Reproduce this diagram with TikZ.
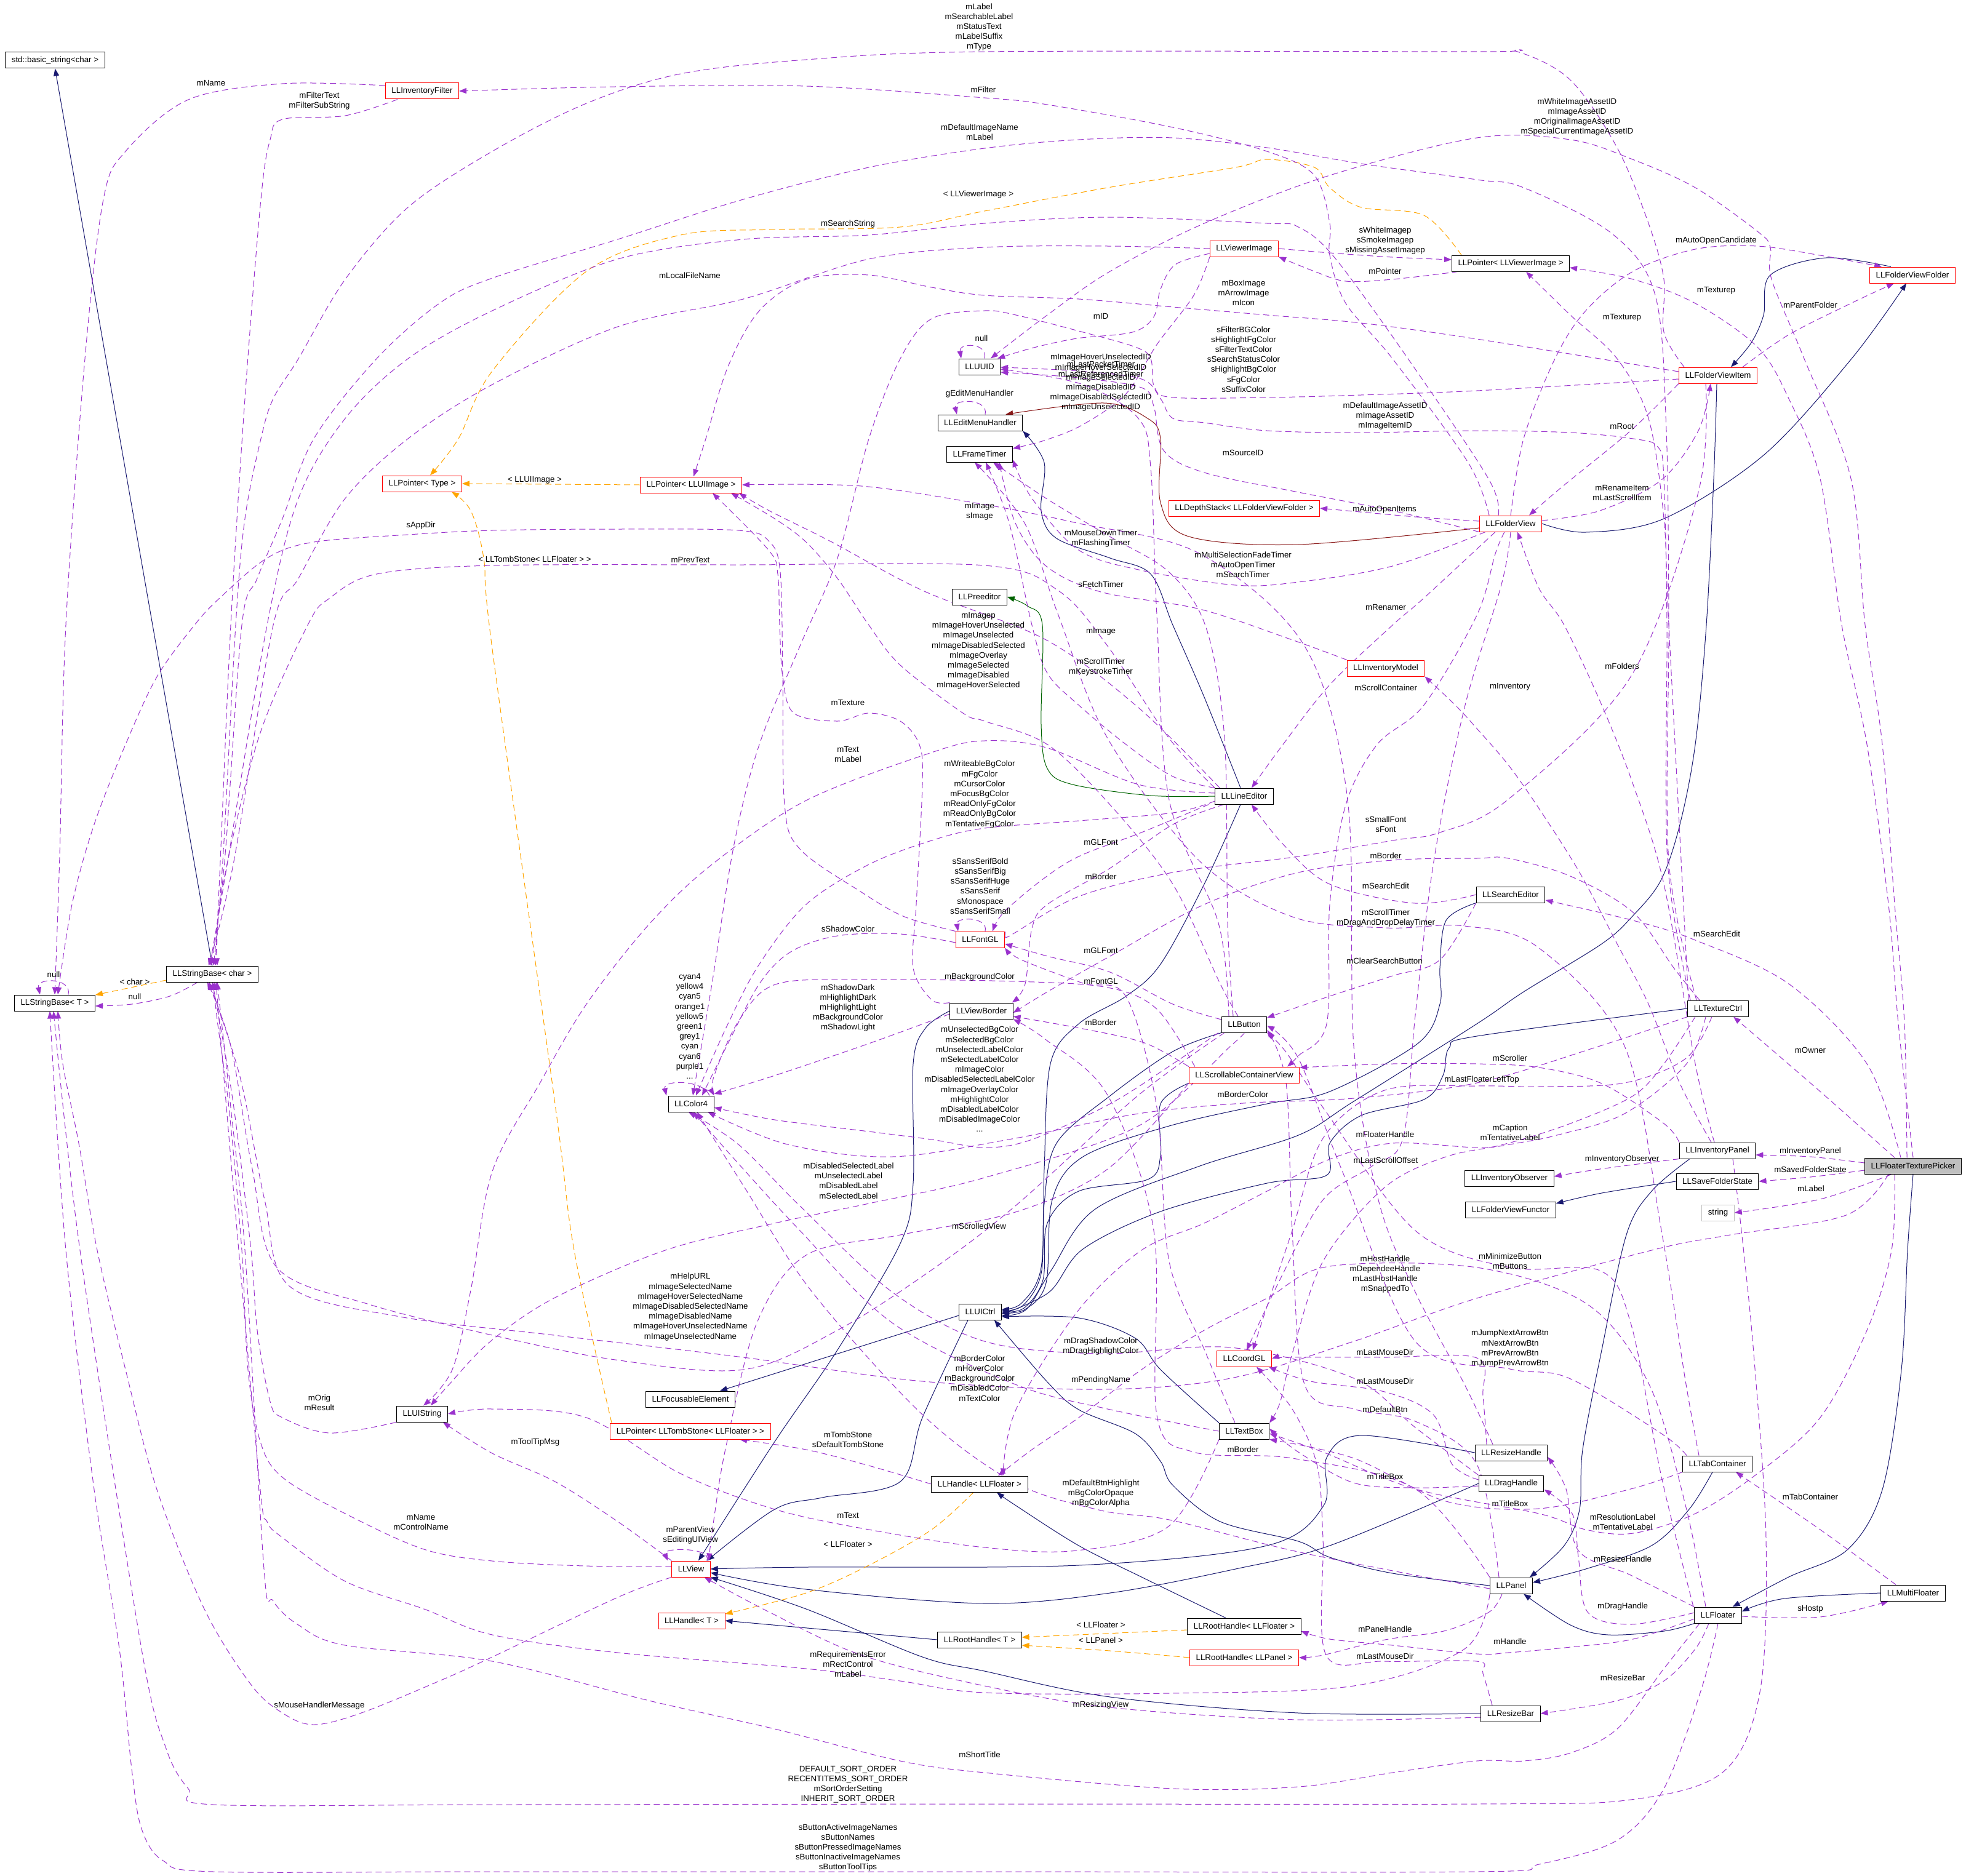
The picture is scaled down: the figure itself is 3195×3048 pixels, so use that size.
\documentclass[tikz,border=0pt]{standalone}
\usepackage{fontspec}
\setmainfont{Liberation Sans}
\usetikzlibrary{arrows.meta,backgrounds}
\definecolor{edgep}{HTML}{9A32CD}
\definecolor{navyc}{HTML}{191970}
\definecolor{orng}{HTML}{FFA500}
\definecolor{dgreen}{HTML}{006400}
\definecolor{dred}{HTML}{8B1A1A}
\definecolor{gbox}{HTML}{BFBFBF}
\begin{document}
\begin{tikzpicture}[x=1pt,y=-1pt,
 every node/.style={font=\fontsize{13.3}{16.2}\selectfont},
 nbox/.style={draw=black,line width=1pt,inner xsep=10pt,inner ysep=0pt,minimum height=26pt,fill=white},
 rbox/.style={nbox,draw=red},
 lbl/.style={align=center,inner sep=0pt},
 arrowtip/.style={-{Triangle[length=12pt,width=9pt]}},
 usee/.style={draw=edgep,line width=1pt,dash pattern=on 10pt off 6pt,arrowtip},
 inh/.style={draw=navyc,line width=1pt,arrowtip},
 dgreenline/.style={draw=dgreen,line width=1pt,arrowtip},
 dredline/.style={draw=dred,line width=1pt,arrowtip},
 tmpl/.style={draw=orng,line width=1pt,dash pattern=on 10pt off 6pt,arrowtip},
 sm/.style={smooth,tension=0.55}]
\useasboundingbox (0,0) rectangle (3195,3048);
% ---------------- nodes
\node[nbox] (bstr) at (89.5,98) {std::basic\_string<char >};
\node[rbox] (invfilt) at (686,148) {LLInventoryFilter};
\node[rbox] (ptrtype) at (686,786) {LLPointer< Type >};
\node[nbox] (sbchar) at (345,1583) {LLStringBase< char >};
\node[nbox] (sbT) at (89,1630) {LLStringBase< T >};
\node[rbox] (ptruiimg) at (1123,788) {LLPointer< LLUIImage >};
\node[nbox] (uuid) at (1592,596) {LLUUID};
\node[nbox] (editmenu) at (1593,687) {LLEditMenuHandler};
\node[nbox] (frametimer) at (1592,738) {LLFrameTimer};
\node[nbox] (preedit) at (1592,970) {LLPreeditor};
\node[rbox] (viewerimg) at (2022,404) {LLViewerImage};
\node[nbox] (ptrviewer) at (2455,428) {LLPointer< LLViewerImage >};
\node[rbox] (fvfolder) at (3108,447) {LLFolderViewFolder};
\node[rbox] (fvitem) at (2792,610) {LLFolderViewItem};
\node[rbox] (depth) at (2022,826) {LLDepthStack< LLFolderViewFolder >};
\node[rbox] (fview) at (2455,851) {LLFolderView};
\node[rbox] (invmodel) at (2252,1086) {LLInventoryModel};
\node[nbox] (lineed) at (2022,1294) {LLLineEditor};
\node[nbox] (searched) at (2455,1454) {LLSearchEditor};
\node[rbox] (fontgl) at (1593,1527) {LLFontGL};
\node[nbox] (vborder) at (1595,1643) {LLViewBorder};
\node[nbox] (button) at (2022,1665) {LLButton};
\node[rbox] (scroll) at (2022,1747) {LLScrollableContainerView};
\node[nbox] (color) at (1123,1794) {LLColor4};
\node[nbox] (texctrl) at (2792,1639) {LLTextureCtrl};
\node[nbox] (invpanel) at (2791,1870) {LLInventoryPanel};
\node[nbox,fill=gbox] (picker) at (3109,1895) {LLFloaterTexturePicker};
\node[nbox] (invobs) at (2453,1915) {LLInventoryObserver};
\node[nbox] (savefs) at (2791,1920) {LLSaveFolderState};
\node[nbox] (fvfunctor) at (2455,1966) {LLFolderViewFunctor};
\node[nbox,draw=gbox] (strn) at (2792,1971) {string};
\node[nbox] (uictrl) at (1593,2132) {LLUICtrl};
\node[nbox] (focus) at (1122,2274) {LLFocusableElement};
\node[rbox] (ptrtomb) at (1122,2326) {LLPointer< LLTombStone< LLFloater > >};
\node[nbox] (uistring) at (686,2298) {LLUIString};
\node[rbox] (coordgl) at (2022,2208) {LLCoordGL};
\node[nbox] (textbox) at (2022,2326) {LLTextBox};
\node[nbox] (hfloater) at (1592,2412) {LLHandle< LLFloater >};
\node[rbox] (view) at (1123,2550) {LLView};
\node[rbox] (handleT) at (1124,2634) {LLHandle< T >};
\node[nbox] (roothT) at (1592,2665) {LLRootHandle< T >};
\node[nbox] (roothF) at (2022,2643) {LLRootHandle< LLFloater >};
\node[rbox] (roothP) at (2022,2694) {LLRootHandle< LLPanel >};
\node[nbox] (rhandle) at (2456,2361) {LLResizeHandle};
\node[nbox] (dhandle) at (2456,2411) {LLDragHandle};
\node[nbox] (tabc) at (2791,2379) {LLTabContainer};
\node[nbox] (panel) at (2456,2577) {LLPanel};
\node[nbox] (floater) at (2792,2625) {LLFloater};
\node[nbox] (multi) at (3109,2589) {LLMultiFloater};
\node[nbox] (rbar) at (2455,2785) {LLResizeBar};
% ---------------- labels
\node[lbl] (la1) at (219,1620) {null};
\node[lbl] (la2) at (219,1596) {< char >};
\node[lbl] (la3) at (87,1584) {null};
\node[lbl] (la4) at (343,135) {mName};
\node[lbl] (la5) at (519,164) {mFilterText\\mFilterSubString};
\node[lbl] (la6) at (1598,146) {mFilter};
\node[lbl] (la7) at (1591,44) {mLabel\\mSearchableLabel\\mStatusText\\mLabelSuffix\\mType};
\node[lbl] (la8) at (1592,215) {mDefaultImageName\\mLabel};
\node[lbl] (la9) at (1590,316) {< LLViewerImage >};
\node[lbl] (la10) at (1378,364) {mSearchString};
\node[lbl] (la11) at (1121,448) {mLocalFileName};
\node[lbl] (la12) at (1595,550) {null};
\node[lbl] (la13) at (1592,640) {gEditMenuHandler};
\node[lbl] (la14) at (869,780) {< LLUIImage >};
\node[lbl] (la15) at (1592,831) {mImage\\sImage};
\node[lbl] (la16) at (684,854) {sAppDir};
\node[lbl] (la17) at (869,909) {< LLTombStone< LLFloater > >};
\node[lbl] (la18) at (1122,910) {mPrevText};
\node[lbl] (la19) at (1590,1058) {mImagep\\mImageHoverUnselected\\mImageUnselected\\mImageDisabledSelected\\mImageOverlay\\mImageSelected\\mImageDisabled\\mImageHoverSelected};
\node[lbl] (la20) at (2021,476) {mBoxImage\\mArrowImage\\mIcon};
\node[lbl] (la21) at (1789,514) {mID};
\node[lbl] (la22) at (2021,584) {sFilterBGColor\\sHighlightFgColor\\sFilterTextColor\\sSearchStatusColor\\sHighlightBgColor\\sFgColor\\sSuffixColor};
\node[lbl] (la23) at (1789,622) {mImageHoverUnselectedID\\mImageHoverSelectedID\\mImageSelectedID\\mImageDisabledID\\mImageDisabledSelectedID\\mImageUnselectedID};
\node[lbl] (la24) at (1789,600) {mLastPacketTimer\\mLastReferencedTimer};
\node[lbl] (la25) at (2251,391) {sWhiteImagep\\sSmokeImagep\\sMissingAssetImagep};
\node[lbl] (la26) at (2251,441) {mPointer};
\node[lbl] (la27) at (2251,676) {mDefaultImageAssetID\\mImageAssetID\\mImageItemID};
\node[lbl] (la28) at (2020,736) {mSourceID};
\node[lbl] (la29) at (2250,828) {mAutoOpenItems};
\node[lbl] (la30) at (1789,875) {mMouseDownTimer\\mFlashingTimer};
\node[lbl] (la31) at (2020,918) {mMultiSelectionFadeTimer\\mAutoOpenTimer\\mSearchTimer};
\node[lbl] (la32) at (1789,950) {sFetchTimer};
\node[lbl] (la33) at (2252,987) {mRenamer};
\node[lbl] (la34) at (2563,190) {mWhiteImageAssetID\\mImageAssetID\\mOriginalImageAssetID\\mSpecialCurrentImageAssetID};
\node[lbl] (la35) at (2789,391) {mAutoOpenCandidate};
\node[lbl] (la36) at (2789,472) {mTexturep};
\node[lbl] (la37) at (2942,496) {mParentFolder};
\node[lbl] (la38) at (2636,516) {mTexturep};
\node[lbl] (la39) at (2636,693) {mRoot};
\node[lbl] (la40) at (2636,801) {mRenameItem\\mLastScrollItem};
\node[lbl] (la41) at (1378,1142) {mTexture};
\node[lbl] (la42) at (1378,1226) {mText\\mLabel};
\node[lbl] (la43) at (1592,1291) {mWriteableBgColor\\mFgColor\\mCursorColor\\mFocusBgColor\\mReadOnlyFgColor\\mReadOnlyBgColor\\mTentativeFgColor};
\node[lbl] (la44) at (1593,1440) {sSansSerifBold\\sSansSerifBig\\sSansSerifHuge\\sSansSerif\\sMonospace\\sSansSerifSmall};
\node[lbl] (la45) at (1378,1510) {sShadowColor};
\node[lbl] (la46) at (1592,1588) {mBackgroundColor};
\node[lbl] (la47) at (1378,1638) {mShadowDark\\mHighlightDark\\mHighlightLight\\mBackgroundColor\\mShadowLight};
\node[lbl] (la48) at (1121,1668) {cyan4\\yellow4\\cyan5\\orange1\\yellow5\\green1\\grey1\\cyan\\cyan6\\purple1\\...};
\node[lbl] (la49) at (1592,1754) {mUnselectedBgColor\\mSelectedBgColor\\mUnselectedLabelColor\\mSelectedLabelColor\\mImageColor\\mDisabledSelectedLabelColor\\mImageOverlayColor\\mHighlightColor\\mDisabledLabelColor\\mDisabledImageColor\\...};
\node[lbl] (la50) at (1379,1919) {mDisabledSelectedLabel\\mUnselectedLabel\\mDisabledLabel\\mSelectedLabel};
\node[lbl] (la51) at (1591,1993) {mScrolledView};
\node[lbl] (la52) at (1789,1026) {mImage};
\node[lbl] (la53) at (1789,1084) {mScrollTimer\\mKeystrokeTimer};
\node[lbl] (la54) at (2252,1118) {mScrollContainer};
\node[lbl] (la55) at (2252,1340) {sSmallFont\\sFont};
\node[lbl] (la56) at (1789,1369) {mGLFont};
\node[lbl] (la57) at (2252,1391) {mBorder};
\node[lbl] (la58) at (1789,1425) {mBorder};
\node[lbl] (la59) at (2252,1440) {mSearchEdit};
\node[lbl] (la60) at (2252,1492) {mScrollTimer\\mDragAndDropDelayTimer};
\node[lbl] (la61) at (1789,1545) {mGLFont};
\node[lbl] (la62) at (2250,1562) {mClearSearchButton};
\node[lbl] (la63) at (1789,1595) {mFontGL};
\node[lbl] (la64) at (1789,1662) {mBorder};
\node[lbl] (la65) at (2020,1779) {mBorderColor};
\node[lbl] (la66) at (2251,1844) {mFloaterHandle};
\node[lbl] (la67) at (2252,1886) {mLastScrollOffset};
\node[lbl] (la68) at (2636,1083) {mFolders};
\node[lbl] (la69) at (2454,1116) {mInventory};
\node[lbl] (la70) at (2790,1518) {mSearchEdit};
\node[lbl] (la71) at (2942,1707) {mOwner};
\node[lbl] (la72) at (2454,1720) {mScroller};
\node[lbl] (la73) at (2408,1755) {mLastFloaterLeftTop};
\node[lbl] (la74) at (2454,1841) {mCaption\\mTentativeLabel};
\node[lbl] (la75) at (2636,1884) {mInventoryObserver};
\node[lbl] (la76) at (2942,1871) {mInventoryPanel};
\node[lbl] (la77) at (2942,1901) {mSavedFolderState};
\node[lbl] (la78) at (2943,1932) {mLabel};
\node[lbl] (la79) at (1122,2124) {mHelpURL\\mImageSelectedName\\mImageHoverSelectedName\\mImageDisabledSelectedName\\mImageDisabledName\\mImageHoverUnselectedName\\mImageUnselectedName};
\node[lbl] (la80) at (870,2344) {mToolTipMsg};
\node[lbl] (la81) at (1378,2340) {mTombStone\\sDefaultTombStone};
\node[lbl] (la82) at (1378,2463) {mText};
\node[lbl] (la83) at (1122,2495) {mParentView\\sEditingUIView};
\node[lbl] (la84) at (1378,2510) {< LLFloater >};
\node[lbl] (la85) at (1378,2705) {mRequirementsError\\mRectControl\\mLabel};
\node[lbl] (la86) at (1592,2852) {mShortTitle};
\node[lbl] (la87) at (1378,2900) {DEFAULT\_SORT\_ORDER\\RECENTITEMS\_SORT\_ORDER\\mSortOrderSetting\\INHERIT\_SORT\_ORDER};
\node[lbl] (la88) at (1378,3003) {sButtonActiveImageNames\\sButtonNames\\sButtonPressedImageNames\\sButtonInactiveImageNames\\sButtonToolTips};
\node[lbl] (la89) at (1592,2240) {mBorderColor\\mHoverColor\\mBackgroundColor\\mDisabledColor\\mTextColor};
\node[lbl] (la90) at (519,2280) {mOrig\\mResult};
\node[lbl] (la91) at (684,2474) {mName\\mControlName};
\node[lbl] (la92) at (519,2772) {sMouseHandlerMessage};
\node[lbl] (la93) at (2251,2071) {mHostHandle\\mDependeeHandle\\mLastHostHandle\\mSnappedTo};
\node[lbl] (la94) at (1789,2188) {mDragShadowColor\\mDragHighlightColor};
\node[lbl] (la95) at (2251,2198) {mLastMouseDir};
\node[lbl] (la96) at (1789,2243) {mPendingName};
\node[lbl] (la97) at (2251,2245) {mLastMouseDir};
\node[lbl] (la98) at (2251,2291) {mDefaultBtn};
\node[lbl] (la99) at (2020,2356) {mBorder};
\node[lbl] (la100) at (2251,2400) {mTitleBox};
\node[lbl] (la101) at (1789,2427) {mDefaultBtnHighlight\\mBgColorOpaque\\mBgColorAlpha};
\node[lbl] (la102) at (1789,2641) {< LLFloater >};
\node[lbl] (la103) at (2251,2648) {mPanelHandle};
\node[lbl] (la104) at (1789,2666) {< LLPanel >};
\node[lbl] (la105) at (2251,2692) {mLastMouseDir};
\node[lbl] (la106) at (1789,2771) {mResizingView};
\node[lbl] (la107) at (2454,2050) {mMinimizeButton\\mButtons};
\node[lbl] (la108) at (2454,2192) {mJumpNextArrowBtn\\mNextArrowBtn\\mPrevArrowBtn\\mJumpPrevArrowBtn};
\node[lbl] (la109) at (2454,2444) {mTitleBox};
\node[lbl] (la110) at (2637,2474) {mResolutionLabel\\mTentativeLabel};
\node[lbl] (la111) at (2637,2534) {mResizeHandle};
\node[lbl] (la112) at (2637,2611) {mDragHandle};
\node[lbl] (la113) at (2454,2668) {mHandle};
\node[lbl] (la114) at (2637,2727) {mResizeBar};
\node[lbl] (la115) at (2942,2433) {mTabContainer};
\node[lbl] (la116) at (2942,2615) {sHostp};
% ---------------- edges
\begin{pgfonlayer}{background}
\fill[white] (0,0) rectangle (3195,3048);
% inheritance
\draw[inh] (sbchar.north) -- (bstr.south);
\draw[inh] ([yshift=-6pt]uictrl.west) -- ([xshift=-25pt]focus.north east);
\draw[inh] plot[sm] coordinates {([xshift=-20pt]uictrl.south) (1499,2304) (1463,2408) (1336,2434) (1259,2453) ([xshift=26pt]view.north)};
\draw[inh] plot[sm] coordinates {(vborder.west) (1504,1671) (1484,1729) (1484,1923) (1463,2021) (1361,2194) (1259,2343) ([xshift=12pt]view.north)};
\draw[inh] plot[sm] coordinates {(rhandle.west) (2212,2333) (2156,2369) (2151,2447) (2059,2512) (1753,2544) (1310,2547) (view.east)};
\draw[inh] plot[sm] coordinates {(dhandle.west) (2161,2512) (2008,2550) (1804,2589) (1600,2606) (1310,2583) ([yshift=-6pt]view.east)};
\draw[inh] plot[sm] coordinates {(rbar.west) (2110,2784) (1804,2758) (1600,2716) (1499,2693) (1310,2615) (view.south east)};
\draw[inh] plot[sm] coordinates {([xshift=-6pt]lineed.south) (1957,1437) (1886,1567) (1830,1619) (1753,1664) (1707,1729) (1697,1900) (1692,2060) (1660,2118) ([yshift=4pt]uictrl.east)};
\draw[inh] plot[sm] coordinates {(button.south west) (1906,1709) (1804,1781) (1717,1858) (1697,1956) (1692,2070) (1662,2122) ([yshift=2pt]uictrl.east)};
\draw[inh] plot[sm] coordinates {(scroll.south west) (1886,1794) (1886,1878) (1865,1917) (1753,1936) (1702,1988) (1695,2080) (1664,2126) (uictrl.east)};
\draw[inh] plot[sm] coordinates {(searched.south west) (2350,1496) (2340,1573) (2340,1632) (2304,1696) (2161,1774) (2059,1794) (1900,1830) (1760,1880) (1710,1950) (1700,2085) (1666,2128) ([yshift=-2pt]uictrl.east)};
\draw[inh] plot[sm] coordinates {(texctrl.west) (2400,1684) (2355,1703) (2345,1748) (2314,1787) (2212,1813) (2161,1858) (2156,1910) (2059,1923) (1886,1969) (1760,2030) (1705,2100) ([yshift=-4pt]uictrl.east)};
\draw[inh] plot[sm] coordinates {([xshift=-2pt]fvitem.south) (2785,778) (2773,1016) (2755,1210) (2730,1340) (2699,1431) (2653,1489) (2603,1534) (2476,1612) (2400,1664) (2200,1790) (2110,1845) (1950,1895) (1780,1965) (1708,2065) (1668,2128) ([yshift=-6pt]uictrl.east)};
\draw[inh] plot[sm] coordinates {(textbox.north west) (1886,2226) (1845,2175) (1753,2142) ([yshift=-8pt]uictrl.east)};
\draw[inh] plot[sm] coordinates {(panel.west) (2263,2557) (2161,2531) (2110,2505) (1983,2473) (1906,2414) (1886,2375) (1845,2330) (1753,2291) (1702,2246) ([xshift=-12pt]uictrl.south east)};
\draw[inh] plot[sm] coordinates {([xshift=-45pt]invpanel.south) (2684,1936) (2643,2007) (2603,2194) (2572,2356) (2567,2453) (2542,2512) ([xshift=-5pt]panel.north east)};
\draw[inh] plot[sm] coordinates {([xshift=-8pt]tabc.south) (2745,2453) (2684,2512) (2577,2550) ([yshift=5pt]panel.east)};
\draw[inh] plot[sm] coordinates {(floater.south west) (2704,2651) (2613,2657) (2552,2641) ([xshift=20pt]panel.south)};
\draw[inh] plot[sm] coordinates {(picker.south) (3100,2032) (3090,2226) (3059,2421) (3003,2518) (2907,2563) ([xshift=-15pt]floater.north east)};
\draw[inh] plot[sm] coordinates {(multi.west) (2900,2598) ([yshift=6pt]floater.east)};
\draw[inh] plot[sm] coordinates {([xshift=-35pt]fvfolder.north) (2968,419) (2877,447) (2866,512) (2846,557) ([xshift=21pt]fvitem.north)};
\draw[inh] plot[sm] coordinates {(fview.east) (2577,865) (2704,843) (2867,739) (3009,583) ([xshift=-10pt]fvfolder.south)};
\draw[inh] plot[sm] coordinates {([xshift=-6pt]lineed.north) (1957,1133) (1906,1016) (1870,933) (1804,907) (1717,875) (1692,830) (1697,752) (editmenu.south east)};
\draw[dgreenline] plot[sm] coordinates {(lineed.west) (1870,1293) (1743,1275) (1702,1249) (1692,1178) (1694,1016) (1670,985) (preedit.east)};
\draw[dredline] plot[sm] coordinates {([yshift=-7pt]fview.west) (2110,885) (1932,872) (1886,817) (1886,713) (1865,680) (1794,655) ([xshift=-28pt]editmenu.north east)};
\draw[inh] plot[sm] coordinates {([xshift=-30pt]roothF.north) (1855,2563) (1753,2512) (1651,2447) ([xshift=28pt]hfloater.south)};
\draw[inh] (roothT.west) -- (handleT.east);
\draw[inh] plot[sm] coordinates {(savefs.west) (2603,1939) ([yshift=10pt]fvfunctor.east)};
% templates
\draw[tmpl] ([yshift=-10pt]sbchar.west) -- ([yshift=13pt]sbT.east);
\draw[tmpl] (ptruiimg.west) -- (ptrtype.east);
\draw[tmpl] plot[sm] coordinates {([xshift=-80pt]ptrviewer.north) (2314,350) (2212,337) (2161,305) (2136,272) (2059,259) (2008,272) (1800,305) (1600,343) (1463,369) (1259,373) (1106,382) (953,441) (800,603) (745,713) ([xshift=13pt]ptrtype.north)};
\draw[tmpl] plot[sm] coordinates {([xshift=-128pt]ptrtomb.north) (933,2032) (902,1794) (800,1055) (786,907) (765,830) ([xshift=48pt]ptrtype.south)};
\draw[tmpl] plot[sm] coordinates {([xshift=-10pt]hfloater.south) (1514,2486) (1412,2544) (1310,2589) ([yshift=11pt]handleT.east)};
\draw[tmpl] ([yshift=-6pt]roothF.west) -- ([yshift=4pt]roothT.east);
\draw[tmpl] plot[sm] coordinates {(roothP.west) (1804,2683) ([yshift=-9pt]roothT.east)};
% usage
\draw[usee] plot[sm] coordinates {([xshift=-24pt]sbchar.south) (276,1619) (214,1632) ([yshift=-5pt]sbT.east)};
\draw[usee] ([xshift=22pt]sbT.north) .. controls ([xshift=28pt,yshift=28pt]sbT.north) and ([xshift=-30pt,yshift=28pt]sbT.north) .. ([xshift=-24pt]sbT.north);
\draw[usee] plot[sm] coordinates {([yshift=9pt]invfilt.west) (459,136) (306,162) (204,246) (168,324) (138,583) (107,1016) (97,1390) (sbT.north)};
\draw[usee] plot[sm] coordinates {([xshift=-40pt]invfilt.south) (561,188) (459,194) (439,227) (424,324) (398,648) (375,1016) (358,1400) ([xshift=5pt]sbchar.north)};
\draw[usee] plot[sm] coordinates {([xshift=-35pt]fview.north) (2386,752) (2263,583) (2187,493) (2161,415) (2161,363) (2136,285) (2059,246) (1906,207) (1702,170) (1600,159) (1310,140) (1000,141) (invfilt.east)};
\draw[usee] plot[sm] coordinates {([xshift=-55pt]fvitem.north) (2704,540) (2704,454) (2679,363) (2628,240) (2552,130) (2466,84) (2400,84) (1600,84) (1310,97) (1106,120) (953,168) (800,246) (663,337) (561,454) (485,583) (444,648) (424,713) (398,843) (383,1016) (362,1400) ([xshift=2pt]sbchar.north)};
\draw[usee] plot[sm] coordinates {([xshift=-35pt]texctrl.north) (2712,1400) (2712,1016) (2708,700) (2690,480) (2620,380) (2476,305) (2400,292) (2212,266) (2059,240) (1906,224) (1753,227) (1600,241) (1412,272) (1208,324) (1004,389) (800,452) (714,493) (612,583) (510,713) (459,843) (418,940) (393,1016) (365,1400) ([xshift=-2pt]sbchar.north)};
\draw[usee] plot[sm] coordinates {([xshift=-20pt]fview.north) (2420,780) (2300,600) (2170,420) (2110,369) (2059,363) (1804,353) (1600,363) (1412,382) (1208,389) (1004,421) (800,505) (663,583) (561,680) (485,810) (434,1016) (370,1400) ([xshift=-4pt]sbchar.north)};
\draw[usee] plot[sm] coordinates {(viewerimg.west) (1800,400) (1600,402) (1412,421) (1208,486) (1004,531) (800,625) (663,713) (561,810) (485,940) (444,1016) (380,1400) ([xshift=-6pt]sbchar.north)};
\draw[usee] plot[sm] coordinates {(fontgl.north west) (1470,1490) (1400,1450) (1300,1380) (1275,1308) (1272,1100) (1268,930) (1250,880) (1200,862) (1000,860) (800,862) (663,869) (510,881) (434,907) (357,972) (316,1016) (255,1100) (204,1210) (153,1340) (117,1470) ([xshift=5pt]sbT.north)};
\draw[usee] plot[sm] coordinates {(lineed.north west) (1900,1200) (1800,1050) (1720,960) (1600,919) (1200,918) (800,919) (612,933) (536,972) (500,1016) (420,1200) (360,1450) ([xshift=8pt]sbchar.north)};
\draw[usee] plot[sm] coordinates {(uistring.south west) (536,2329) (459,2304) (439,2278) (418,2162) (408,2032) (380,1800) (355,1650) (sbchar.south)};
\draw[usee] plot[sm] coordinates {([yshift=4pt]view.west) (950,2545) (800,2537) (689,2518) (561,2460) (459,2401) (423,2343) (403,2226) (393,2032) (372,1800) (352,1650) ([xshift=3pt]sbchar.south)};
\draw[usee] plot[sm] coordinates {(view.south west) (1004,2596) (800,2693) (714,2732) (587,2784) (510,2803) (459,2784) (408,2738) (332,2615) (255,2421) (204,2226) (158,2032) (128,1858) (102,1729) ([xshift=5pt]sbT.south)};
\draw[usee] plot[sm] coordinates {([xshift=25pt]invpanel.south) (2830,2000) (2850,2200) (2870,2500) (2860,2750) (2800,2880) (2650,2925) (2400,2932) (1600,2932) (800,2933) (347,2933) (306,2907) (270,2842) (230,2680) (130,2032) ([xshift=-2pt]sbT.south)};
\draw[usee] plot[sm] coordinates {(floater.south) (2765,2745) (2704,2907) (2628,2991) (2501,3030) (2400,3042) (1600,3042) (800,3042) (347,3042) (265,3024) (230,2972) (214,2875) (194,2680) (153,2421) (107,2032) ([xshift=-8pt]sbT.south)};
\draw[usee] plot[sm] coordinates {([xshift=-30pt]floater.south) (2704,2712) (2628,2810) (2552,2849) (2476,2862) (2400,2862) (2263,2881) (2110,2904) (1906,2907) (1600,2881) (1463,2862) (1259,2810) (1055,2764) (800,2700) (561,2674) (485,2641) (444,2602) (429,2550) (398,2032) (375,1800) ([xshift=8pt]sbchar.south)};
\draw[usee] plot[sm] coordinates {(panel.south west) (2380,2680) (2200,2740) (1900,2752) (1600,2751) (1463,2732) (1310,2712) (1004,2686) (800,2657) (689,2615) (561,2570) (459,2499) (434,2473) (423,2421) (388,2032) (368,1800) ([xshift=6pt]sbchar.south)};
\draw[usee] plot[sm] coordinates {([xshift=-40pt]picker.south) (3000,1975) (2806,2008) (2684,2032) (2400,2110) (2200,2180) (2000,2240) (1789,2258) (1500,2245) (1200,2205) (900,2170) (650,2140) (470,2090) (430,1950) (390,1750) ([xshift=-5pt]sbchar.south)};
\draw[usee] plot[sm] coordinates {([xshift=5pt]button.south west) (1850,1780) (1650,1960) (1514,2064) (1361,2162) (1208,2226) (1000,2210) (800,2170) (600,2120) (450,2060) (410,1900) (375,1700) ([xshift=-8pt]sbchar.south)};
\draw[usee] plot[sm] coordinates {([yshift=5pt]lineed.west) (1850,1275) (1700,1215) (1600,1204) (1514,1223) (1310,1301) (1157,1405) (1055,1502) (953,1632) (877,1761) (800,1904) (765,2097) (735,2226) ([xshift=2pt]uistring.north)};
\draw[usee] plot[sm] coordinates {(button.south) (2000,1700) (1850,1830) (1600,1914) (1412,1956) (1259,1988) (1081,2032) (900,2110) (796,2181) (730,2250) ([xshift=14pt]uistring.north)};
\draw[usee] plot[sm] coordinates {(view.north west) (1004,2473) (902,2408) (800,2362) ([xshift=-8pt]uistring.south east)};
\draw[usee] plot[sm] coordinates {(textbox.south west) (1900,2480) (1750,2520) (1600,2515) (1412,2486) (1259,2453) (1106,2395) (953,2304) (800,2290) (uistring.east)};
\draw[usee] ([xshift=-6pt]view.north east) .. controls ([xshift=4pt,yshift=22pt]view.north east) and ([xshift=-16pt,yshift=22pt]view.north west) .. ([xshift=-6pt]view.north west);
\draw[usee] plot[sm] coordinates {(scroll.south west) (1800,1900) (1650,1970) (1463,2007) (1310,2040) (1230,2150) (1180,2350) (1160,2470) ([xshift=-3pt]view.north east)};
\draw[usee] plot[sm] coordinates {([yshift=-6pt]rbar.west) (2110,2795) (1804,2775) (1600,2740) (1400,2690) (1250,2620) ([xshift=-10pt]view.south east)};
\draw[usee] plot[sm] coordinates {(hfloater.west) (1412,2382) (1310,2356) ([xshift=80pt]ptrtomb.south)};
\draw[usee] plot[sm] coordinates {([xshift=-20pt]floater.north) (2740,2450) (2680,2250) (2580,2120) (2400,2060) (2161,2058) (2059,2110) (1957,2162) (1855,2226) (1753,2304) (1677,2356) ([xshift=30pt]hfloater.north)};
\draw[usee] plot[sm] coordinates {([xshift=-37pt]texctrl.south) (2704,1729) (2654,1781) (2552,1826) (2451,1858) (2400,1865) (2263,1858) (2161,1884) (2059,1936) (1957,1988) (1855,2032) (1753,2129) (1651,2291) ([xshift=38pt]hfloater.north)};
\draw[usee] plot[sm] coordinates {([xshift=-10pt]texctrl.south) (2740,1720) (2640,1760) (2500,1766) (2400,1765) (2250,1772) (2150,1850) (2100,2000) (2060,2120) ([xshift=14pt]coordgl.north)};
\draw[usee] plot[sm] coordinates {(fview.south) (2440,950) (2380,1150) (2330,1400) (2300,1650) (2280,1850) (2230,1895) (2150,1950) (2080,2080) ([xshift=4pt]coordgl.north)};
\draw[usee] plot[sm] coordinates {([xshift=-40pt]rhandle.north) (2410,2270) (2400,2207) (2250,2206) (2100,2206) (coordgl.east)};
\draw[usee] plot[sm] coordinates {([yshift=6pt]dhandle.west) (2360,2380) (2330,2300) (2250,2262) (2130,2245) ([xshift=-5pt]coordgl.south east)};
\draw[usee] plot[sm] coordinates {([xshift=-30pt]rbar.north) (2410,2720) (2400,2700) (2250,2700) (2155,2690) (2150,2500) (2140,2380) (2100,2290) ([xshift=20pt]coordgl.south)};
\draw[usee] plot[sm] coordinates {([xshift=-20pt]texctrl.south) (2740,1730) (2640,1810) (2530,1845) (2454,1860) (2350,1880) (2250,1930) (2150,2050) (2100,2200) (2080,2280) (textbox.north east)};
\draw[usee] plot[sm] coordinates {([xshift=-30pt]picker.south) (3074,2032) (3034,2162) (2958,2304) (2856,2395) (2755,2460) (2654,2492) (2577,2486) (2501,2460) (2300,2420) (2150,2360) ([yshift=-4pt]textbox.east)};
\draw[usee] plot[sm] coordinates {([yshift=-4pt]dhandle.west) (2300,2418) (2200,2410) (2110,2360) ([yshift=4pt]textbox.east)};
\draw[usee] plot[sm] coordinates {(tabc.south west) (2650,2420) (2500,2452) (2350,2440) (2200,2370) (textbox.south east)};
\draw[usee] plot[sm] coordinates {(panel.north west) (2300,2420) (2100,2370) (1940,2360) (1880,2300) (1875,2000) (1800,1780) (1700,1690) (vborder.south east)};
\draw[usee] plot[sm] coordinates {([xshift=15pt]lineed.south west) (1906,1340) (1804,1411) (1702,1470) (1677,1509) (1666,1599) ([xshift=-2pt]vborder.north east)};
\draw[usee] plot[sm] coordinates {([xshift=-30pt]texctrl.north) (2720,1573) (2654,1483) (2552,1424) (2451,1395) (2400,1395) (2263,1398) (2110,1418) (1957,1470) (1804,1554) (1702,1612) ([yshift=-3pt]vborder.east)};
\draw[usee] plot[sm] coordinates {(scroll.north west) (1860,1695) (1760,1672) ([yshift=-9pt]vborder.east)};
\draw[usee] plot[sm] coordinates {(vborder.north west) (1514,1625) (1484,1573) (1489,1470) (1499,1275) (1494,1210) (1463,1172) (1412,1159) (1361,1172) (1290,1159) (1272,1100) (1267,1016) (1264,933) (1249,894) ([xshift=35pt]ptruiimg.south)};
\draw[usee] plot[sm] coordinates {([yshift=-5pt]vborder.west) (1412,1696) (1259,1748) ([yshift=16pt]color.east)};
\draw[usee] plot[sm] coordinates {([yshift=-5pt]fontgl.west) (1463,1518) (1361,1521) (1285,1547) (1234,1599) (1183,1696) ([xshift=18pt]color.north)};
\draw[usee] plot[sm] coordinates {([xshift=10pt]scroll.north west) (1880,1640) (1800,1605) (1650,1595) (1400,1592) (1260,1600) (1200,1660) (1160,1750) (color.north east)};
\draw[usee] plot[sm] coordinates {([yshift=-8pt]lineed.west) (1906,1321) (1753,1334) (1600,1346) (1514,1366) (1412,1405) (1310,1470) (1234,1567) (1183,1664) ([xshift=8pt]color.north)};
\draw[usee] plot[sm] coordinates {([yshift=-6pt]fvitem.west) (2400,635) (2212,642) (2059,646) (1906,646) (1876,629) (1870,583) (1845,564) (1753,538) (1651,512) (1600,505) (1514,518) (1463,583) (1412,713) (1361,907) (1300,1050) (1234,1210) (1193,1372) (1157,1599) ([xshift=3pt]color.north)};
\draw[usee] plot[sm] coordinates {([xshift=-5pt]button.south west) (1906,1729) (1804,1794) (1677,1852) (1600,1865) (1514,1852) (1412,1839) (1259,1820) ([yshift=-6pt]color.east)};
\draw[usee] plot[sm] coordinates {([yshift=-5pt]panel.west) (2300,2560) (2100,2520) (1900,2470) (1790,2455) (1650,2410) (1500,2300) (1320,2100) (1210,1930) ([xshift=10pt]color.south)};
\draw[usee] plot[sm] coordinates {(textbox.west) (1800,2290) (1650,2250) (1450,2150) (1300,2000) (1190,1880) ([xshift=4pt]color.south)};
\draw[usee] plot[sm] coordinates {(dhandle.north west) (2300,2320) (2200,2240) (2000,2190) (1789,2200) (1600,2180) (1450,2100) (1300,1960) (1200,1860) ([xshift=-4pt]color.south)};
\draw[usee] plot[sm] coordinates {(texctrl.south west) (2600,1700) (2400,1760) (2200,1785) (2020,1793) (1850,1810) (1650,1850) (1450,1880) (1280,1860) ([xshift=-10pt]color.south east)};
\draw[usee] plot[sm] coordinates {([xshift=-10pt]button.north) (1983,1599) (1906,1437) (1804,1308) (1702,1210) (1600,1172) (1565,1159) (1463,1081) (1412,1016) (1361,940) (1310,881) (1259,843) ([xshift=65pt]ptruiimg.south)};
\draw[usee] plot[sm] coordinates {([xshift=8pt]lineed.north west) (1850,1150) (1700,1040) (1500,960) (1350,880) (1250,830) ([xshift=-5pt]ptruiimg.south east)};
\draw[usee] plot[sm] coordinates {([yshift=6pt]fvitem.west) (2400,551) (2212,525) (2059,512) (1906,499) (1753,486) (1600,480) (1514,467) (1412,447) (1310,454) (1234,505) (1183,596) (1147,713) ([xshift=4pt]ptruiimg.north)};
\draw[usee] plot[sm] coordinates {([xshift=-30pt]rhandle.north) (2380,2250) (2300,2100) (2240,1950) (2200,1700) (2190,1300) (2120,1050) (1950,900) (1750,850) (1600,820) (1400,790) (ptruiimg.east)};
\draw[usee] plot[sm] coordinates {([xshift=-10pt]picker.north) (3095,1664) (3079,1470) (3059,1210) (3031,1016) (3008,778) (2932,583) (2879,454) (2877,402) (2856,376) (2755,305) (2653,259) (2552,227) (2400,224) (2161,285) (1957,363) (1804,441) (1702,512) ([xshift=18pt]uuid.north)};
\draw[usee] plot[sm] coordinates {([yshift=-8pt]viewerimg.west) (1910,430) (1886,470) (1875,515) (1840,540) (1750,550) (1680,565) ([xshift=-5pt]uuid.north east)};
\draw[usee] plot[sm] coordinates {([xshift=-25pt]button.north) (1980,1500) (1900,1300) (1880,1000) (1870,760) (1850,680) (1760,625) ([yshift=-4pt]uuid.east)};
\draw[usee] plot[sm] coordinates {([xshift=-45pt]texctrl.north) (2710,1400) (2709,1016) (2704,778) (2694,726) (2654,713) (2552,703) (2400,700) (2212,703) (2059,700) (1957,687) (1906,680) (1886,648) (1855,616) (1753,603) ([yshift=-1pt]uuid.east)};
\draw[usee] plot[sm] coordinates {(fview.south west) (2263,830) (2110,800) (1957,768) (1891,732) (1875,660) (1855,630) (1753,614) ([yshift=-9pt]uuid.east)};
\draw[usee] ([xshift=8pt]uuid.north) .. controls ([xshift=14pt,yshift=26pt]uuid.north) and ([xshift=-34pt,yshift=26pt]uuid.north) .. ([xshift=-30pt]uuid.north);
\draw[usee] ([xshift=8pt]editmenu.north) .. controls ([xshift=14pt,yshift=26pt]editmenu.north) and ([xshift=-44pt,yshift=26pt]editmenu.north) .. ([xshift=-38pt]editmenu.north);
\draw[usee] plot[sm] coordinates {(viewerimg.south west) (1940,480) (1880,560) (1830,640) (1760,690) (1700,715) ([yshift=9pt]frametimer.east)};
\draw[usee] plot[sm] coordinates {([xshift=-18pt]button.north) (1995,1500) (1990,1200) (1960,1020) (1900,930) (1800,870) (1700,810) ([xshift=22pt]frametimer.south)};
\draw[usee] plot[sm] coordinates {(lineed.north west) (1906,1262) (1830,1210) (1753,1146) (1702,1094) (1677,1016) (1640,850) ([xshift=10pt]frametimer.south)};
\draw[usee] plot[sm] coordinates {([xshift=10pt]fview.south west) (2263,920) (2110,946) (2008,951) (1855,927) (1753,894) (1677,810) ([yshift=-9pt]frametimer.east)};
\draw[usee] plot[sm] coordinates {(invmodel.north west) (2100,1040) (1950,990) (1789,962) (1700,920) (1650,850) ([xshift=32pt]frametimer.south)};
\draw[usee] plot[sm] coordinates {([xshift=-30pt]tabc.north) (2740,2250) (2700,2000) (2640,1700) (2500,1540) (2380,1505) (2252,1508) (2100,1490) (1950,1400) (1800,1200) (1720,1000) (1665,850) ([xshift=-8pt]frametimer.south)};
\draw[usee] plot[sm] coordinates {(viewerimg.east) (2161,411) (2263,418) ([yshift=6pt]ptrviewer.west)};
\draw[usee] plot[sm] coordinates {([xshift=-85pt]ptrviewer.south) (2263,454) (2187,457) (2136,441) (viewerimg.south east)};
\draw[usee] plot[sm] coordinates {(picker.north) (3085,1664) (3069,1470) (3034,1210) (2993,1016) (2958,778) (2907,648) (2856,564) (2755,493) (2654,454) ([yshift=-7pt]ptrviewer.east)};
\draw[usee] plot[sm] coordinates {([xshift=-48pt]texctrl.north) (2712,1016) (2704,843) (2679,680) (2628,583) (2552,512) ([xshift=25pt]ptrviewer.south)};
\draw[usee] plot[sm] coordinates {(fview.north) (2476,713) (2527,583) (2577,505) (2654,441) (2755,405) (2856,400) (2958,415) ([xshift=-50pt]fvfolder.north)};
\draw[usee] plot[sm] coordinates {([xshift=40pt]fvitem.north) (2907,544) (3008,493) ([xshift=-30pt]fvfolder.south)};
\draw[usee] plot[sm] coordinates {(fvitem.south west) (2650,700) (2540,790) ([xshift=30pt]fview.north)};
\draw[usee] plot[sm] coordinates {([yshift=5pt]fview.east) (2600,830) (2700,780) (2760,700) ([xshift=-12pt]fvitem.south)};
\draw[usee] plot[sm] coordinates {([xshift=-5pt]invpanel.north) (2755,1729) (2704,1437) (2654,1275) (2603,1146) (2542,1016) (2501,956) ([xshift=11pt]fview.south)};
\draw[usee] plot[sm] coordinates {([yshift=4pt]fview.west) (2300,840) (depth.east)};
\draw[usee] plot[sm] coordinates {([xshift=-25pt]fview.south) (2314,972) (2263,1016) (2161,1113) (2085,1210) ([xshift=12pt]lineed.north)};
\draw[usee] plot[sm] coordinates {([xshift=-10pt]fview.south) (2430,900) (2400,1000) (2314,1146) (2238,1210) (2187,1308) (2161,1470) (2156,1664) (2110,1716) ([xshift=70pt]scroll.north)};
\draw[usee] plot[sm] coordinates {([xshift=-10pt]invpanel.north) (2730,1761) (2679,1632) (2628,1534) (2567,1418) (2501,1314) (2451,1243) (2400,1184) (2365,1146) (invmodel.south east)};
\draw[usee] plot[sm] coordinates {(invpanel.north west) (2704,1826) (2603,1761) (2501,1735) (2400,1729) (2263,1729) ([yshift=12pt]scroll.east)};
\draw[usee] plot[sm] coordinates {(invpanel.south west) (2600,1900) ([yshift=3pt]invobs.east)};
\draw[usee] plot[sm] coordinates {([xshift=-30pt]picker.north) (2958,1774) ([xshift=25pt]texctrl.south)};
\draw[usee] plot[sm] coordinates {([yshift=5pt]picker.west) (2942,1880) ([yshift=-7pt]invpanel.east)};
\draw[usee] plot[sm] coordinates {([yshift=-7pt]picker.west) (2942,1913) (savefs.east)};
\draw[usee] plot[sm] coordinates {([xshift=-35pt]picker.south) (2958,1949) (strn.east)};
\draw[usee] plot[sm] coordinates {([xshift=-20pt]picker.north) (3034,1729) (2907,1599) (2755,1528) (2654,1496) ([yshift=-9pt]searched.east)};
\draw[usee] plot[sm] coordinates {([xshift=-28pt]multi.north) (2958,2486) ([xshift=30pt]tabc.south)};
\draw[usee] plot[sm] coordinates {([yshift=-2pt]floater.east) (2958,2628) ([xshift=-40pt]multi.south)};
\draw[usee] plot[sm] coordinates {(floater.north west) (2650,2560) (2565,2520) (2545,2420) ([yshift=-7pt]rhandle.east)};
\draw[usee] plot[sm] coordinates {([yshift=4pt]floater.west) (2650,2640) (2580,2620) (2565,2530) (2555,2460) ([yshift=-10pt]dhandle.east)};
\draw[usee] plot[sm] coordinates {([xshift=-15pt]floater.south) (2755,2680) (2704,2732) (2628,2764) (rbar.east)};
\draw[usee] plot[sm] coordinates {([yshift=-6pt]floater.west) (2654,2664) (2552,2677) (2451,2686) (2400,2688) (2263,2674) (2161,2664) ([yshift=-8pt]roothF.east)};
\draw[usee] plot[sm] coordinates {([xshift=-15pt]panel.south) (2420,2620) (2350,2650) (2251,2665) (2150,2690) (roothP.east)};
\draw[usee] plot[sm] coordinates {([xshift=-20pt]panel.north) (2400,2380) (2300,2310) (2200,2290) (2120,2250) (2100,2000) (2090,1760) ([yshift=-9pt]button.east)};
\draw[usee] plot[sm] coordinates {([xshift=-40pt]floater.north) (2700,2400) (2650,2150) (2600,2065) (2454,2060) (2300,2000) (2150,1800) (2090,1710) (button.south east)};
\draw[usee] plot[sm] coordinates {([xshift=-50pt]tabc.north) (2700,2330) (2550,2240) (2454,2225) (2300,2180) (2180,1900) (2110,1720) ([yshift=-2pt]button.east)};
\draw[usee] plot[sm] coordinates {(searched.south west) (2340,1560) (2263,1586) (2161,1619) ([yshift=11pt]button.east)};
\draw[usee] plot[sm] coordinates {(searched.west) (2300,1468) (2161,1437) (2085,1372) ([xshift=12pt]lineed.south)};
\draw[usee] plot[sm] coordinates {([xshift=-20pt]fvitem.south) (2760,800) (2650,1100) (2450,1300) (2340,1353) (2263,1366) (2110,1392) (1906,1418) (1753,1457) (1651,1515) (fontgl.east)};
\draw[usee] plot[sm] coordinates {([xshift=-10pt]lineed.south west) (1855,1353) (1753,1392) (1692,1431) (1631,1483) ([xshift=20pt]fontgl.north)};
\draw[usee] plot[sm] coordinates {([yshift=8pt]button.west) (1906,1632) (1804,1580) (1702,1554) ([yshift=-7pt]fontgl.east)};
\draw[usee] plot[sm] coordinates {([xshift=-15pt]textbox.north) (1960,2200) (1900,2050) (1880,1800) (1830,1620) (1760,1598) (1660,1560) (fontgl.south east)};
\draw[usee] ([xshift=8pt]fontgl.north) .. controls ([xshift=14pt,yshift=24pt]fontgl.north) and ([xshift=-40pt,yshift=24pt]fontgl.north) .. ([xshift=-36pt]fontgl.north);
\draw[usee] ([xshift=30pt]color.north) .. controls ([xshift=20pt,yshift=26pt]color.north) and ([xshift=-46pt,yshift=26pt]color.north) .. ([xshift=-40pt]color.north);
\end{pgfonlayer}
\end{tikzpicture}
\end{document}
